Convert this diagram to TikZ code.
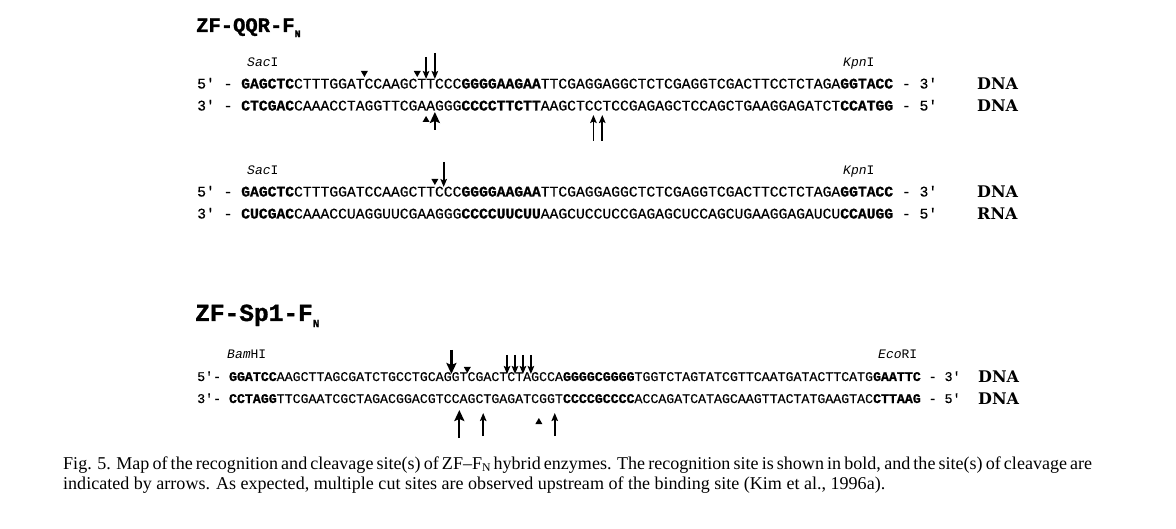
\documentclass[tikz,border=0pt]{standalone}
\usepackage{fontspec}
\setmainfont{Liberation Serif}
\newfontfamily\seqfont{Liberation Mono}[UprightFeatures={FakeBold=0.4},BoldFeatures={FakeBold=1.2}]
\newfontfamily\enzfont{Liberation Mono}
\newfontfamily\lblfont{DejaVu Serif}
\usetikzlibrary{arrows.meta}
\newlength\capwd
\newcommand\QA{241.05}
\newcommand\QW{8.81}
\newcommand\SA{228.8}
\newcommand\SW{7.95}
\newcommand\qu{\textquotesingle}
\newcommand\lineB{indicated by arrows. As expected, multiple cut sites are observed upstream of the binding site (Kim et al., 1996a).}
% arrow: style, x, ytail, ytip, name
\newcommand\cutarrow[5]{\coordinate (#5a) at ({#2},{#3}); \coordinate (#5b) at ({#2},{#4}); \draw[#1] (#5a) -- (#5b);}
% nick triangles: x, ytip, name
\newcommand\nickdown[3]{\coordinate (#3) at ({#1},{#2}); \fill (#3) -- ++(-3.5,-6) -- ++(7,0) -- cycle;}
\newcommand\nickup[3]{\coordinate (#3) at ({#1},{#2}); \fill (#3) -- ++(-3.5,6) -- ++(7,0) -- cycle;}
\begin{document}
\settowidth\capwd{\fontsize{10}{12}\selectfont\lineB}
\pgfmathsetmacro\capfs{10*822/\capwd}
\pgfmathsetmacro\capbs{1.2*\capfs}
\pgfmathsetmacro\capsub{0.65*\capfs}
\begin{tikzpicture}[x=1pt,y=-1pt,
  seqA/.style={anchor=base west, inner sep=0, font=\seqfont\fontsize{14.68}{16}\selectfont},
  seqB/.style={anchor=base west, inner sep=0, font=\seqfont\fontsize{13.25}{15}\selectfont},
  enz/.style={anchor=base west, inner sep=0, font=\enzfont\fontsize{13}{15}\selectfont},
  titleA/.style={anchor=base west, inner sep=0, font=\seqfont\bfseries\fontsize{20.5}{24}\selectfont},
  titleB/.style={anchor=base west, inner sep=0, font=\seqfont\bfseries\fontsize{24.5}{28}\selectfont},
  mol/.style={anchor=base west, inner sep=0, font=\lblfont\bfseries\fontsize{16}{18}\selectfont},
  capstyle/.style={anchor=base west, inner sep=0, font=\fontsize{\capfs}{\capbs}\selectfont},
  cut/.style={line width=1.7pt, -{Stealth[length=8pt,width=6.5pt,inset=1.5pt]}},
  bigcut/.style={line width=2.2pt, -{Stealth[length=11pt,width=10pt,inset=2pt]}}
]
\useasboundingbox[fill=white] (0,0) rectangle (1176,529);

% ---------- ZF-QQR-FN ----------
\node[titleA] (t1) at (196,32) {ZF-QQR-F\raisebox{-0.25em}{\fontsize{10}{10}\selectfont N}};

\node[enz] (sac1) at (247,67) {\itshape Sac\upshape I};
\node[enz] (kpn1) at (843,67) {\itshape Kpn\upshape I};
\node[seqA] (r1) at (197,88.5) {5\qu{} - \textbf{GAGCTC}CTTTGGATCCAAGCTTCCC\textbf{GGGGAAGAA}TTCGAGGAGGCTCTCGAGGTCGACTTCCTCTAGA\textbf{GGTACC} - 3\qu};
\node[seqA] (r2) at (197,110.5) {3\qu{} - \textbf{CTCGAC}CAAACCTAGGTTCGAAGGG\textbf{CCCCTTCTT}AAGCTCCTCCGAGAGCTCCAGCTGAAGGAGATCT\textbf{CCATGG} - 5\qu};
\node[mol] (m1) at (977,90) {DNA};
\node[mol] (m2) at (977,112) {DNA};

\nickdown{\QA+14*\QW}{77}{n1}
\nickdown{\QA+20*\QW}{77}{n2}
\cutarrow{cut}{\QA+21*\QW}{57}{79}{c1}
\cutarrow{cut}{\QA+22*\QW}{53}{79}{c2}
\nickup{\QA+21*\QW}{116}{n3}
\cutarrow{bigcut}{\QA+22*\QW}{130}{112}{c3}
\cutarrow{cut}{\QA+40*\QW}{141}{115}{c4}
\cutarrow{cut}{\QA+41*\QW}{141}{115}{c5}

% ---------- second (DNA/RNA) ----------
\node[enz] (sac2) at (247,175) {\itshape Sac\upshape I};
\node[enz] (kpn2) at (843,175) {\itshape Kpn\upshape I};
\node[seqA] (r3) at (197,196.5) {5\qu{} - \textbf{GAGCTC}CTTTGGATCCAAGCTTCCC\textbf{GGGGAAGAA}TTCGAGGAGGCTCTCGAGGTCGACTTCCTCTAGA\textbf{GGTACC} - 3\qu};
\node[seqA] (r4) at (197,218.5) {3\qu{} - \textbf{CUCGAC}CAAACCUAGGUUCGAAGGG\textbf{CCCCUUCUU}AAGCUCCUCCGAGAGCUCCAGCUGAAGGAGAUCU\textbf{CCAUGG} - 5\qu};
\node[mol] (m3) at (977,198) {DNA};
\node[mol] (m4) at (977,220) {RNA};

\nickdown{\QA+22*\QW}{185}{n4}
\cutarrow{cut}{\QA+23*\QW}{162}{187}{c6}

% ---------- ZF-Sp1-FN ----------
\node[titleB] (t2) at (195,321) {ZF-Sp1-F\raisebox{-0.25em}{\fontsize{11}{11}\selectfont N}};

\node[enz] (bam) at (227,359) {\itshape Bam\upshape HI};
\node[enz] (eco) at (878,359) {\itshape Eco\upshape RI};
\node[seqB] (r5) at (197,381) {5\qu- \textbf{GGATCC}AAGCTTAGCGATCTGCCTGCAGGTCGACTCTAGCCA\textbf{GGGGCGGGG}TGGTCTAGTATCGTTCAATGATACTTCATG\textbf{GAATTC} - 3\qu};
\node[seqB] (r6) at (197,403) {3\qu- \textbf{CCTAGG}TTCGAATCGCTAGACGGACGTCCAGCTGAGATCGGT\textbf{CCCCGCCCC}ACCAGATCATAGCAAGTTACTATGAAGTAC\textbf{CTTAAG} - 5\qu};
\node[mol] (m5) at (978,382.5) {DNA};
\node[mol] (m6) at (978,404.5) {DNA};

\cutarrow{bigcut}{\SA+28*\SW}{350}{374}{c7}
\nickdown{\SA+30*\SW}{373}{n5}
\cutarrow{cut}{\SA+35*\SW}{355}{374}{c8}
\cutarrow{cut}{\SA+36*\SW}{355}{374}{c9}
\cutarrow{cut}{\SA+37*\SW}{355}{374}{c10}
\cutarrow{cut}{\SA+38*\SW}{355}{374}{c11}
\cutarrow{bigcut}{\SA+29*\SW}{438}{410}{c12}
\cutarrow{cut}{\SA+32*\SW}{436}{413}{c13}
\nickup{\SA+39*\SW}{418}{n6}
\cutarrow{cut}{\SA+41*\SW}{436}{413}{c14}

% ---------- caption ----------
\node[capstyle] (cap1) at (63,469) {\makebox[1029pt][s]{Fig. 5. Map of the recognition and cleavage site(s) of ZF--F\raisebox{-0.3ex}{\fontsize{\capsub}{\capsub}\selectfont N} hybrid enzymes. The recognition site is shown in bold, and the site(s) of cleavage are}};
\node[capstyle] (cap2) at (63,489) {\lineB};
\end{tikzpicture}
\end{document}
